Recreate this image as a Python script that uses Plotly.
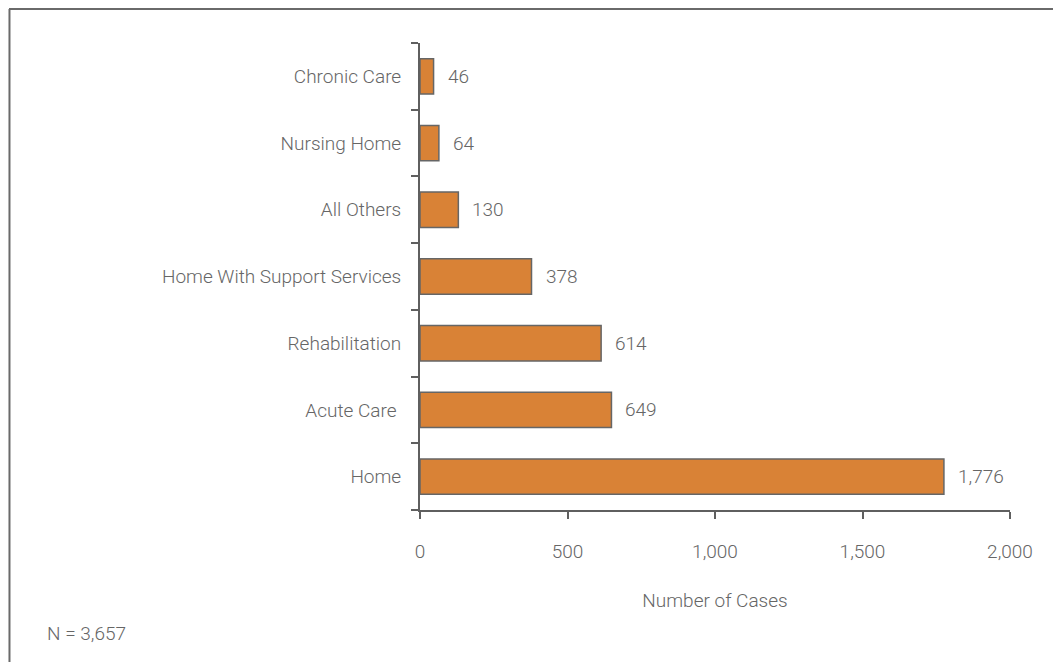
import plotly.graph_objects as go

categories = ["Home", "Acute Care ", "Rehabilitation", "Home With Support Services",
              "All Others", "Nursing Home", "Chronic Care"]
cases = [1776, 649, 614, 378, 130, 64, 46]
x_ticks = [0, 500, 1000, 1500, 2000]
x_tick_labels = ["0", "500", "1,000", "1,500", "2,000"]
x_title = "Number of Cases"
note = "N = 3,657"

FONT = "Roboto, Liberation Sans, sans-serif"
FS = 19
FW = 300
TXT = "#666666"
AX = "#5f5f5f"

fig = go.Figure()
fig.add_trace(go.Bar(
    x=cases, y=categories, orientation="h",
    marker=dict(color="#D98236", line=dict(color="#666666", width=1.5)),
    width=0.53, hoverinfo="skip",
))

for c, v in zip(categories, cases):
    fig.add_annotation(x=v, y=c, xref="x", yref="y", text=f"{v:,}",
                       showarrow=False, xanchor="left", xshift=12,
                       font=dict(family=FONT, size=FS, color=TXT, weight=FW))

fig.add_annotation(x=-0.6356, y=-0.2634, xref="paper", yref="paper", text=note,
                   showarrow=False, xanchor="left", yanchor="middle",
                   font=dict(family=FONT, size=FS, color=TXT, weight=FW))

# frame (top and left edges)
fig.add_shape(type="line", xref="paper", yref="paper", x0=-0.6966, x1=1.1,
              y0=1.0728, y1=1.0728, line=dict(color="#6a6a6a", width=2))
fig.add_shape(type="line", xref="paper", yref="paper", x0=-0.6958, x1=-0.6958,
              y0=1.0728, y1=-0.35, line=dict(color="#6a6a6a", width=2))

fig.update_layout(
    width=1053, height=654,
    margin=dict(l=412, r=51, t=35, b=152),
    paper_bgcolor="white", plot_bgcolor="white",
    showlegend=False,
    font=dict(family=FONT, size=FS, color=TXT, weight=FW),
    xaxis=dict(range=[0, 2000], tickvals=x_ticks, ticktext=x_tick_labels,
               showgrid=False, zeroline=False, showline=True, linecolor=AX, linewidth=2,
               ticks="outside", ticklen=7, tickwidth=2, tickcolor=AX,
               ticklabelstandoff=16,
               tickfont=dict(family=FONT, size=FS, color=TXT, weight=FW),
               title=dict(text=x_title, standoff=32,
                          font=dict(family=FONT, size=FS, color=TXT, weight=FW)),
               fixedrange=True),
    yaxis=dict(range=[-0.5, 6.5], showgrid=False, zeroline=False, showline=True,
               linecolor=AX, linewidth=2, ticks="outside", ticklen=7, tickwidth=2,
               tickcolor=AX, tickson="boundaries", ticklabelstandoff=13,
               tickfont=dict(family=FONT, size=FS, color=TXT, weight=FW),
               fixedrange=True),
)

fig.write_html("out.html")
